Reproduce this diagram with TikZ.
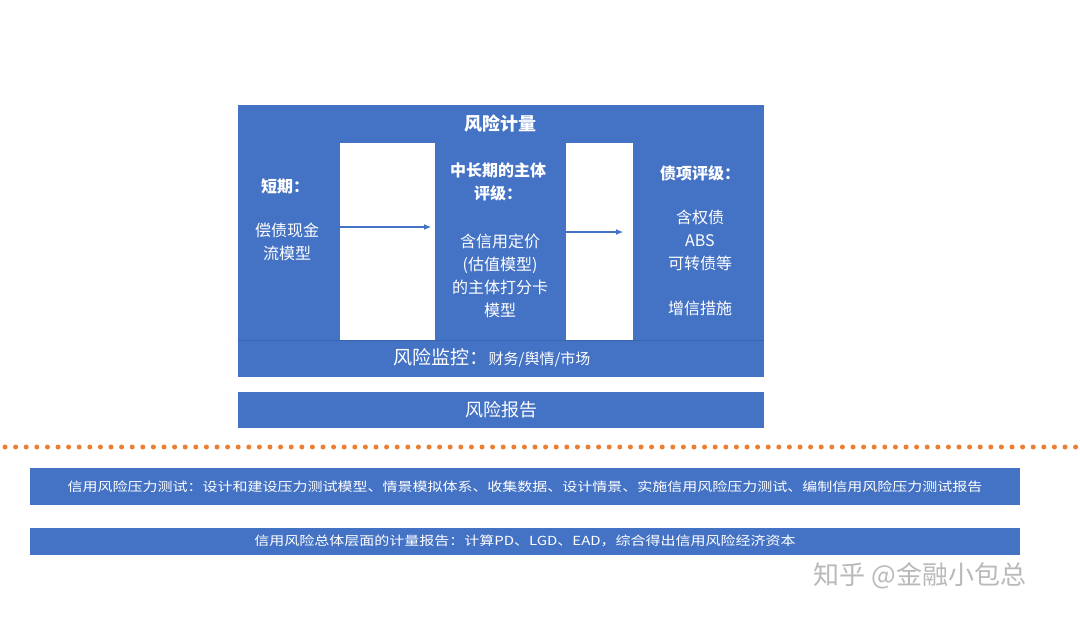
\documentclass[tikz,border=0pt]{standalone}
\usepackage{fontspec}
\setmainfont{Noto Sans CJK SC}
\usepackage{graphicx}
\definecolor{riskblue}{HTML}{4472C4}
\definecolor{edgeblue}{HTML}{3A63AE}
\definecolor{dotorange}{HTML}{ED7D31}
\tikzset{
    bluebox/.style = {fill = riskblue, inner sep = 0pt},
    gapbox/.style = {fill = white, inner sep = 0pt},
    flowarrow/.style = {draw = riskblue, line width = 1.1pt, -{Latex[length = 7pt, width = 6pt]}},
    headtext/.style = {font = \fontsize{16}{23}\selectfont\bfseries}
}
\usetikzlibrary{arrows.meta}
\begin{document}
\begin{tikzpicture}[x = 1pt, y = -1pt]
        \useasboundingbox (0,0) rectangle (1080,622);
        % blue panels
        \node[bluebox, minimum width = 526pt, minimum height = 272pt] (measure) at (501,241) {};
        \node[bluebox, minimum width = 526pt, minimum height = 36pt] (report) at (501,410)
            {\fontsize{18}{20}\selectfont\color{white}风险报告};
        \node[bluebox, minimum width = 990pt, minimum height = 37pt] (stress) at (525,486.5)
            {\fontsize{12.5}{14}\selectfont\color{white}\scalebox{1.2}[1]{信用风险压力测试：设计和建设压力测试模型、情景模拟体系、收集数据、设计情景、实施信用风险压力测试、编制信用风险压力测试报告}};
        \node[bluebox, minimum width = 990pt, minimum height = 27pt] (capital) at (525,541)
            {\fontsize{12.5}{14}\selectfont\color{white}\scalebox{1.2}[1]{信用风险总体层面的计量报告：计算PD、LGD、EAD，综合得出信用风险经济资本}};
        \draw[edgeblue] (measure.west |- 0,340) -- (measure.east |- 0,340);
        % white gaps with arrows
        \node[gapbox, minimum width = 95pt, minimum height = 197pt] (gapa) at (387.5,241.5) {};
        \node[gapbox, minimum width = 67pt, minimum height = 197pt] (gapb) at (599.5,241.5) {};
        \coordinate (shortend) at (431,227);
        \coordinate (midend) at (623,232);
        \draw[flowarrow] (gapa.west |- shortend) -- (shortend);
        \draw[flowarrow] (gapb.west |- midend) -- (midend);
        % texts
        \begin{scope}[every node/.append style = {text = white, align = center, font = \fontsize{16}{23}\selectfont}]
            \node[font = \fontsize{18}{20}\selectfont\bfseries] (title) at (500,124) {风险计量};
            \node[headtext] (short) at (285,186) {短期：};
            \node (shortmodel) at (287,241.5) {偿债现金\\流模型};
            \node[headtext] (midhead) at (498,181.5) {中长期的主体\\评级：};
            \node (midmodel) at (500,276) {含信用定价\\(估值模型)\\的主体打分卡\\模型};
            \node[headtext] (bondhead) at (700,173) {债项评级：};
            \node (bondtype) at (700,240) {含权债\\ABS\\可转债等};
            \node (enhance) at (700,308) {增信措施};
            \node (monitor) at (492,358) {\fontsize{19}{20}\selectfont 风险监控：\fontsize{15}{20}\selectfont 财务/舆情/市场};
        \end{scope}
        % dotted divider
        \draw[dotorange, line width = 5pt, line cap = round, dash pattern = on 0pt off 10.6pt] (5,447) -- (1078,447);
        \node[text = gray!55, font = \fontsize{26}{28}\selectfont] (mark) at (920,576) {知乎 @金融小包总};
    \end{tikzpicture}
\end{document}
